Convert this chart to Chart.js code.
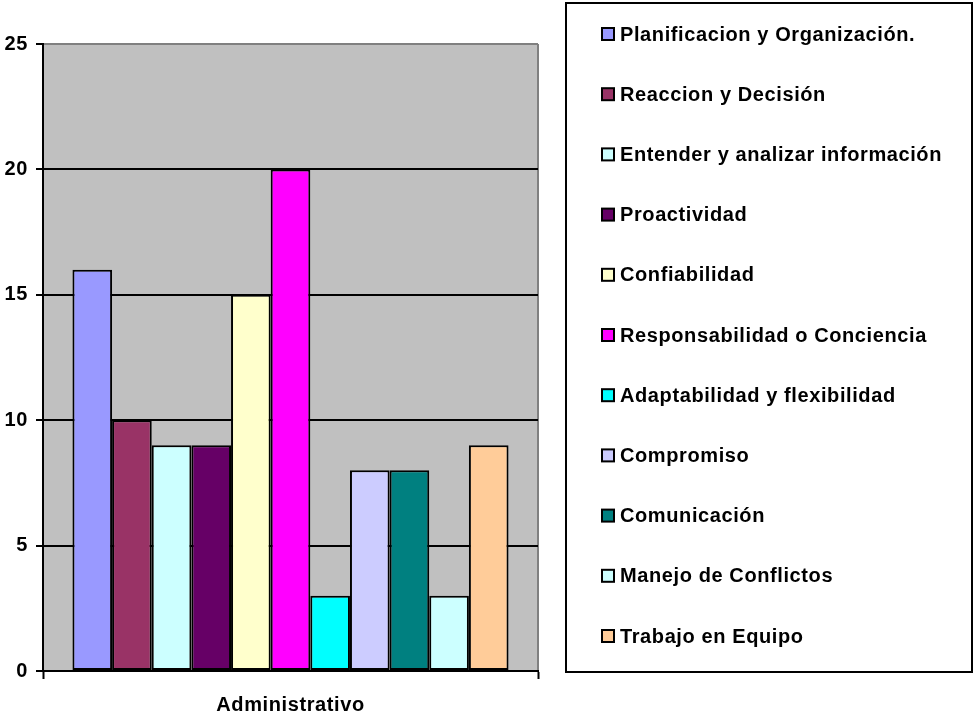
<!DOCTYPE html>
<html>
<head>
<meta charset="utf-8">
<script src="https://cdn.jsdelivr.net/npm/chart.js@4/dist/chart.umd.min.js"></script>
<style>
  html, body { margin: 0; padding: 0; background: #ffffff; }
  #wrap { width: 976px; height: 713px; position: relative; }
</style>
</head>
<body>
<div id="wrap"><canvas id="c" width="976" height="713"></canvas></div>
<script>
// Group on the x axis
const categories = ['Administrativo'];

// One bar per competency
const seriesNames = [
  'Planificacion y Organización.',
  'Reaccion y Decisión',
  'Entender y analizar información',
  'Proactividad',
  'Confiabilidad',
  'Responsabilidad o Conciencia',
  'Adaptabilidad y flexibilidad',
  'Compromiso',
  'Comunicación',
  'Manejo de Conflictos',
  'Trabajo en Equipo'
];
const seriesValues = [16, 10, 9, 9, 15, 20, 3, 8, 8, 3, 9];
const seriesColors = [
  '#9999FF', '#993366', '#CCFFFF', '#660066', '#FFFFCC', '#FF00FF',
  '#00FFFF', '#CCCCFF', '#008080', '#CCFFFF', '#FFCC99'
];
const yTicks = [0, 5, 10, 15, 20, 25];

const FONT = { family: 'Liberation Sans, Arial, sans-serif', size: 20, weight: 'bold' };
const LETTER_SPACING = '0.6px';

// Slightly wider letter spacing for every text drawn on the canvas
const textSpacing = {
  id: 'textSpacing',
  beforeDraw(chart) { chart.ctx.letterSpacing = LETTER_SPACING; }
};

// Gray plot background with a gray right edge
const plotFrame = {
  id: 'plotFrame',
  beforeDraw(chart) {
    const { ctx, chartArea: a } = chart;
    ctx.save();
    ctx.fillStyle = '#C0C0C0';
    ctx.fillRect(a.left, a.top, a.right - a.left, a.bottom - a.top);
    ctx.strokeStyle = '#808080';
    ctx.lineWidth = 2;
    ctx.beginPath();
    ctx.moveTo(a.right, a.top);
    ctx.lineTo(a.right, a.bottom);
    ctx.stroke();
    ctx.restore();
  }
};

// Boxed legend on the right, built from the datasets
const boxLegend = {
  id: 'boxLegend',
  afterDraw(chart) {
    const { ctx } = chart;
    const box = { x: 566, y: 3, w: 406, h: 669 };
    ctx.save();
    ctx.fillStyle = '#ffffff';
    ctx.fillRect(box.x, box.y, box.w, box.h);
    ctx.strokeStyle = '#000000';
    ctx.lineWidth = 2;
    ctx.strokeRect(box.x, box.y, box.w, box.h);
    ctx.font = `${FONT.weight} ${FONT.size}px ${FONT.family}`;
    ctx.letterSpacing = LETTER_SPACING;
    ctx.textBaseline = 'alphabetic';
    ctx.textAlign = 'left';
    const firstBase = 40.5, step = 60.2;
    chart.data.datasets.forEach((ds, i) => {
      const base = firstBase + i * step;
      ctx.fillStyle = ds.backgroundColor;
      ctx.fillRect(602, base - 12.5, 12, 12);
      ctx.lineWidth = 2;
      ctx.strokeStyle = '#000000';
      ctx.strokeRect(602, base - 12.5, 12, 12);
      ctx.fillStyle = '#000000';
      ctx.fillText(ds.label, 620, base);
    });
    ctx.restore();
  }
};

new Chart(document.getElementById('c'), {
  type: 'bar',
  data: {
    labels: categories,
    datasets: seriesNames.map((name, i) => ({
      label: name,
      data: [seriesValues[i]],
      backgroundColor: seriesColors[i],
      borderColor: '#000000',
      borderWidth: 2,
      borderSkipped: false,
      barPercentage: 1.0,
      categoryPercentage: 0.881
    }))
  },
  options: {
    responsive: false,
    animation: false,
    events: [],
    layout: { padding: { top: 44, right: 438, left: 0, bottom: 0 } },
    plugins: { legend: { display: false }, tooltip: { enabled: false } },
    scales: {
      x: {
        grid: { drawOnChartArea: false, drawTicks: true, tickLength: 8, tickColor: '#000000', tickWidth: 2, offset: true },
        border: { display: true, color: '#000000', width: 2 },
        ticks: { color: '#000000', font: FONT, padding: 14 },
        afterFit(scale) { scale.height = 42; }
      },
      y: {
        min: 0, max: 25,
        afterBuildTicks(scale) { scale.ticks = yTicks.map(v => ({ value: v })); },
        grid: {
          color: ctx => (ctx.tick && ctx.tick.value === 25 ? '#808080' : '#000000'),
          lineWidth: 2,
          drawTicks: true, tickLength: 7, tickColor: '#000000', tickWidth: 2
        },
        border: { display: true, color: '#000000', width: 2 },
        ticks: { color: '#000000', font: FONT, padding: 8 },
        afterFit(scale) { scale.width = 43; }
      }
    }
  },
  plugins: [textSpacing, plotFrame, boxLegend]
});
</script>
</body>
</html>
